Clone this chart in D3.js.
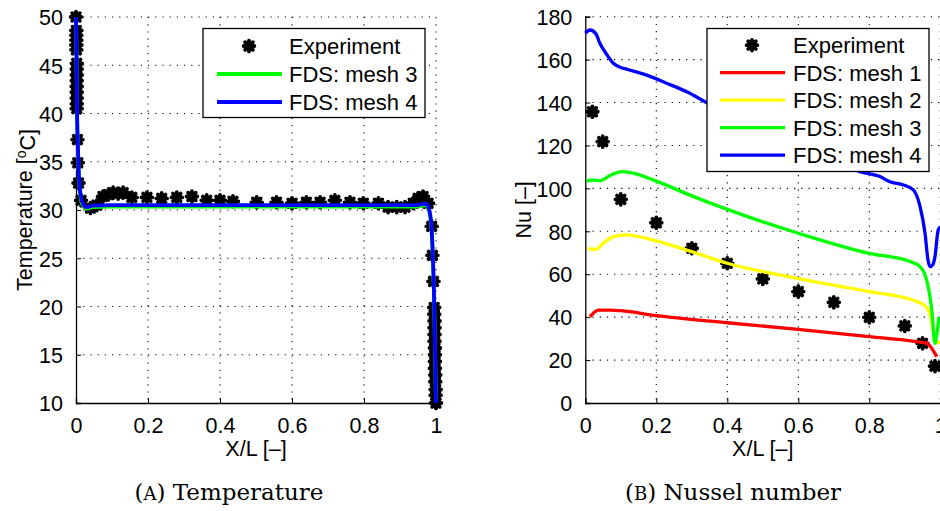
<!DOCTYPE html>
<html>
<head>
<meta charset="utf-8">
<script src="https://cdn.jsdelivr.net/npm/d3@7"></script>
<style>
  body { margin: 0; background: #fff; }
  svg { display: block; }
  text { font-family: "Liberation Sans", Arial, sans-serif; fill: #000; }
  .caption { font-family: "DejaVu Serif", serif; }
</style>
</head>
<body>
<svg id="chart" width="940" height="511"></svg>
<script>
// ---- data ----
const tempXTicks = [0, 0.2, 0.4, 0.6, 0.8, 1];
const tempYTicks = [10, 15, 20, 25, 30, 35, 40, 45, 50];
const nuXTicks = [0, 0.2, 0.4, 0.6, 0.8, 1];
const nuYTicks = [0, 20, 40, 60, 80, 100, 120, 140, 160, 180];

const tempExperiment = [
  [0.000, 50.0], [0.001, 48.6], [0.001, 48.1], [0.001, 47.6], [0.001, 47.1], [0.001, 46.6],
  [0.002, 45.2], [0.002, 44.6], [0.002, 44.0], [0.002, 43.4], [0.002, 42.8], [0.002, 42.2],
  [0.002, 41.6], [0.002, 41.0], [0.002, 40.5], [0.004, 37.3], [0.005, 34.9], [0.007, 32.8],
  [0.014, 31.0], [0.040, 30.2], [0.058, 30.5], [0.075, 31.4], [0.090, 31.6], [0.103, 31.8],
  [0.117, 31.7], [0.131, 31.8], [0.155, 31.3], [0.197, 31.3], [0.238, 31.2], [0.280, 31.3],
  [0.322, 31.4], [0.363, 31.0], [0.400, 31.0], [0.436, 30.9], [0.502, 30.8], [0.557, 30.8],
  [0.600, 30.7], [0.640, 30.8], [0.678, 30.8], [0.719, 31.0], [0.761, 30.8], [0.798, 30.7],
  [0.840, 30.7], [0.867, 30.3], [0.891, 30.3], [0.914, 30.3], [0.937, 30.7], [0.950, 31.2],
  [0.964, 31.4], [0.978, 30.7], [0.988, 28.3], [0.990, 25.3], [0.993, 22.6], [0.995, 19.9],
  [0.995, 19.2], [0.996, 18.5], [0.996, 17.8], [0.996, 17.1], [0.996, 16.4], [0.997, 15.7],
  [0.997, 15.0], [0.997, 14.3], [0.997, 13.6], [0.998, 12.9], [0.998, 12.2], [0.999, 11.4],
  [0.999, 10.8], [1.000, 10.0]
];
const tempMesh3 = [
  [0, 50], [0.002, 44], [0.003, 40], [0.005, 37], [0.007, 34.3], [0.010, 32.2], [0.014, 31.0],
  [0.019, 30.5], [0.025, 30.2], [0.032, 30.15], [0.045, 30.3], [0.1, 30.35], [0.5, 30.35],
  [0.94, 30.35], [0.962, 30.45], [0.972, 30.5], [0.979, 30.1], [0.984, 29.2], [0.988, 27.7],
  [0.991, 25.2], [0.994, 21.8], [0.996, 18.3], [0.998, 14], [1.0, 10]
];
const tempMesh4 = [
  [0, 50], [0.002, 44], [0.003, 40], [0.005, 37], [0.007, 34.5], [0.010, 32.5], [0.014, 31.3],
  [0.019, 30.7], [0.025, 30.35], [0.032, 30.3], [0.045, 30.45], [0.1, 30.5], [0.5, 30.5],
  [0.94, 30.5], [0.962, 30.6], [0.972, 30.65], [0.979, 30.3], [0.984, 29.5], [0.988, 28.0],
  [0.991, 25.5], [0.994, 22], [0.996, 18.5], [0.998, 14], [1.0, 10]
];

const nuExperiment = [
  [0.02, 135.7], [0.049, 121.8], [0.1, 94.9], [0.2, 84], [0.3, 72.1], [0.4, 65.1], [0.5, 57.8],
  [0.6, 51.9], [0.7, 46.9], [0.8, 39.9], [0.9, 35.9], [0.95, 27.8], [0.985, 17.2]
];
const nuMesh1 = [
  [0.013, 40.2], [0.037, 43.3], [0.07, 43.3], [0.1, 43], [0.2, 40.7], [0.4, 37.4], [0.6, 34.3],
  [0.8, 30.9], [0.933, 28.6], [0.962, 27.8], [0.99, 21.6]
];
const nuMesh2 = [
  [0.008, 71.8], [0.03, 71.6], [0.05, 74.4], [0.08, 77.5], [0.112, 78.3], [0.15, 77.5],
  [0.2, 75.5], [0.3, 70.5], [0.4, 65.1], [0.6, 58], [0.8, 51.9], [0.93, 47.5], [0.955, 45.5],
  [0.97, 42], [0.98, 34], [0.99, 28], [1.0, 28.5]
];
const nuMesh3 = [
  [0.004, 103.4], [0.022, 103.9], [0.04, 103.5], [0.07, 106], [0.102, 107.8], [0.14, 106.9],
  [0.2, 103.4], [0.3, 96.5], [0.4, 90.2], [0.6, 79.1], [0.8, 69.7], [0.915, 65.9], [0.943, 63.5],
  [0.955, 60.5], [0.965, 55], [0.976, 43.3], [0.985, 27.8], [0.991, 33], [0.996, 40]
];
const nuMesh4 = [
  [0, 172.3], [0.013, 173.8], [0.03, 172], [0.041, 167.6], [0.06, 162.5], [0.079, 158.3],
  [0.098, 156.5], [0.117, 155.5], [0.173, 152.8], [0.229, 149], [0.286, 145], [0.337, 140.4],
  [0.4, 135], [0.5, 127], [0.6, 120], [0.7, 113], [0.774, 107.8], [0.83, 105.5], [0.858, 103.1],
  [0.896, 101.6], [0.924, 99.3], [0.943, 91.5], [0.957, 79.1], [0.965, 67], [0.971, 63.5],
  [0.979, 64.5], [0.985, 68.2], [0.994, 80.6], [1.0, 82]
];

const svg = d3.select("#chart");

// MATLAB style '*' marker: four crossing strokes
let starPath = r => {
  let k = r * 0.707;
  return `M${-r},0L${r},0M0,${-r}L0,${r}M${-k},${-k}L${k},${k}M${-k},${k}L${k},${-k}`;
};

let drawPanel = (opt) => {
  let x = d3.scaleLinear().domain(opt.xDomain).range([opt.left, opt.right]);
  let y = d3.scaleLinear().domain(opt.yDomain).range([opt.bottom, opt.top]);
  let g = svg.append("g");

  // dotted grid
  g.append("g").selectAll("line").data(opt.xTicks.filter(d => d !== opt.xDomain[0]))
    .enter().append("line")
    .attr("x1", d => x(d)).attr("x2", d => x(d))
    .attr("y1", opt.top).attr("y2", opt.bottom)
    .attr("stroke", "#000").attr("stroke-width", 1.1).attr("stroke-dasharray", "1.2,6");
  g.append("g").selectAll("line").data(opt.yTicks.filter(d => d !== opt.yDomain[0]))
    .enter().append("line")
    .attr("x1", opt.left).attr("x2", opt.right)
    .attr("y1", d => y(d)).attr("y2", d => y(d))
    .attr("stroke", "#000").attr("stroke-width", 1.1).attr("stroke-dasharray", "1.2,6");

  // axes, ticks pointing in
  let xAxis = g.append("g")
    .attr("transform", `translate(0,${opt.bottom})`)
    .call(d3.axisBottom(x).tickValues(opt.xTicks).tickSize(-5).tickPadding(14).tickFormat(d3.format("~g")));
  let yAxis = g.append("g")
    .attr("transform", `translate(${opt.left},0)`)
    .call(d3.axisLeft(y).tickValues(opt.yTicks).tickSize(-5).tickPadding(13).tickFormat(d3.format("~g")));
  [xAxis, yAxis].forEach(a => {
    a.select(".domain").attr("stroke", "#000").attr("stroke-width", 1.3);
    a.selectAll(".tick line").attr("stroke", "#000").attr("stroke-width", 1);
    a.selectAll(".tick text").style("font-size", "21.5px").attr("fill", "#000");
  });
  xAxis.selectAll(".tick text").attr("dy", "0.75em");
  yAxis.selectAll(".tick text").attr("dy", "0.36em");

  // experiment markers
  g.append("g").selectAll("path").data(opt.points)
    .enter().append("path")
    .attr("d", starPath(5.4))
    .attr("transform", d => `translate(${x(d[0])},${y(d[1])})`)
    .attr("stroke", "#000").attr("stroke-width", 3.8).attr("stroke-linecap", "round")
    .attr("fill", "none");

  // simulated curves
  let line = d3.line().x(d => x(d[0])).y(d => y(d[1])).curve(d3.curveMonotoneX);
  opt.series.forEach(s => {
    g.append("path").datum(s.data)
      .attr("d", line)
      .attr("fill", "none")
      .attr("stroke", s.color)
      .attr("stroke-width", opt.lineWidth)
      .attr("stroke-linejoin", "round");
  });

  // legend
  let lg = opt.legend;
  let leg = g.append("g");
  leg.append("rect")
    .attr("x", lg.x).attr("y", lg.y).attr("width", lg.w).attr("height", lg.h)
    .attr("fill", "#fff").attr("stroke", "#000").attr("stroke-width", 1.3);
  let rows = [{label: "Experiment", marker: true}].concat(opt.series);
  rows.forEach((r, i) => {
    let cy = lg.y + lg.first + i * lg.step;
    if (r.marker) {
      leg.append("path").attr("d", starPath(5.4))
        .attr("transform", `translate(${lg.x + lg.lineX0 + 32},${cy})`)
        .attr("stroke", "#000").attr("stroke-width", 3.8).attr("stroke-linecap", "round");
    } else {
      leg.append("line")
        .attr("x1", lg.x + lg.lineX0).attr("x2", lg.x + lg.lineX0 + 65)
        .attr("y1", cy).attr("y2", cy)
        .attr("stroke", r.color).attr("stroke-width", opt.lineWidth);
    }
    leg.append("text")
      .attr("x", lg.x + lg.textX).attr("y", cy).attr("dy", "0.36em")
      .style("font-size", "22px")
      .text(r.label);
  });

  // axis labels
  svg.append("text")
    .attr("x", (opt.left + opt.right) / 2).attr("y", opt.bottom + 53)
    .attr("text-anchor", "middle").style("font-size", "21.5px")
    .text("X/L [\u2013]");
  let yl = svg.append("text")
    .attr("transform", `translate(${opt.yLabelX},${(opt.top + opt.bottom) / 2}) rotate(-90)`)
    .attr("text-anchor", "middle").style("font-size", "21.5px");
  opt.yLabel(yl);

  // caption
  let cap = svg.append("text").attr("class", "caption")
    .attr("x", opt.captionX).attr("y", 500)
    .attr("text-anchor", "middle").style("font-size", "23px");
  cap.append("tspan").text("(");
  cap.append("tspan").style("font-size", "18px").text(opt.captionLetter);
  cap.append("tspan").text(") " + opt.caption);
};

drawPanel({
  left: 76, right: 436, top: 17, bottom: 403,
  xDomain: [0, 1], yDomain: [10, 50],
  xTicks: tempXTicks, yTicks: tempYTicks,
  points: tempExperiment,
  lineWidth: 3.8,
  series: [
    {label: "FDS: mesh 3", color: "#00ff00", data: tempMesh3},
    {label: "FDS: mesh 4", color: "#0000ff", data: tempMesh4}
  ],
  legend: {x: 203, y: 28.5, w: 222, h: 89, first: 17.5, step: 28, lineX0: 14, textX: 86},
  yLabelX: 32,
  yLabel: t => {
    t.append("tspan").text("Temperature [");
    t.append("tspan").attr("dy", "-0.45em").style("font-size", "14px").text("o");
    t.append("tspan").attr("dy", "0.45em").text("C]");
  },
  captionX: 229, captionLetter: "A", caption: "Temperature"
});

drawPanel({
  left: 585.3, right: 940.3, top: 16.7, bottom: 403,
  xDomain: [0, 1], yDomain: [0, 180],
  xTicks: nuXTicks, yTicks: nuYTicks,
  points: nuExperiment,
  lineWidth: 3.3,
  series: [
    {label: "FDS: mesh 1", color: "#ff0000", data: nuMesh1},
    {label: "FDS: mesh 2", color: "#ffff00", data: nuMesh2},
    {label: "FDS: mesh 3", color: "#00ff00", data: nuMesh3},
    {label: "FDS: mesh 4", color: "#0000ff", data: nuMesh4}
  ],
  legend: {x: 707, y: 28.5, w: 222, h: 143, first: 16.7, step: 27.5, lineX0: 13, textX: 86},
  yLabelX: 531,
  yLabel: t => t.text("Nu [\u2013]"),
  captionX: 733, captionLetter: "B", caption: "Nussel number"
});
</script>
</body>
</html>
